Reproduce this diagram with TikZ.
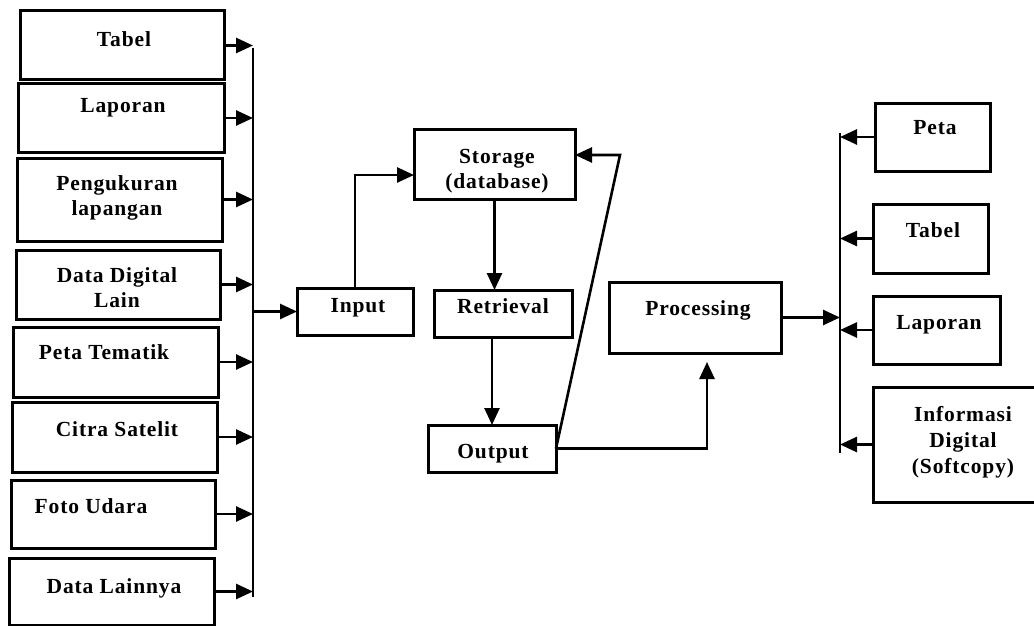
\documentclass[tikz,border=0pt]{standalone}
\usepackage{fontspec}
\newfontfamily\boxfont[LetterSpace=4]{Liberation Serif}
\usetikzlibrary{arrows.meta}
\begin{document}
\begin{tikzpicture}[x=1pt,y=-1pt,
  box/.style={draw, line width=3pt, inner sep=0pt, outer sep=0pt},
  txt/.style={anchor=base, inner sep=0pt, font=\boxfont\bfseries\fontsize{21.5}{26}\selectfont},
  arr/.style={line width=2.6pt, -{Triangle[length=17pt,width=15pt]}},
  ln/.style={line width=2.8pt}]
\useasboundingbox (0,0) rectangle (1034,626);
% box macro: name, x1, y1, x2, y2
\newcommand\bx[5]{\node[box, minimum width={#4-#2}, minimum height={#5-#3}] (#1) at ({(#2+#4)/2},{(#3+#5)/2}) {};}

% data sources
\bx{srcTabel}{20}{11}{224}{80}
\bx{srcLaporan}{18}{84}{224}{152}
\bx{srcUkur}{17}{158}{222}{241}
\bx{srcDigital}{16}{250}{220}{319}
\bx{srcTematik}{13}{327}{218}{397}
\bx{srcCitra}{12}{402}{217}{472}
\bx{srcFoto}{11}{480}{215}{548}
\bx{srcLain}{9}{558}{214}{625}
\node[txt] (tTabel) at (124,47) {Tabel};
\node[txt] (tLaporan) at (123,113) {Laporan};
\node[txt] (tUkur1) at (117,190) {Pengukuran};
\node[txt] (tUkur2) at (117,215) {lapangan};
\node[txt] (tDig1) at (117,282) {Data Digital};
\node[txt] (tDig2) at (117,307) {Lain};
\node[txt] (tTematik) at (104,359) {Peta Tematik};
\node[txt] (tCitra) at (117,436) {Citra Satelit};
\node[txt] (tFoto) at (91,513) {Foto Udara};
\node[txt] (tLain) at (114,593) {Data Lainnya};

% processing chain
\bx{input}{297}{288}{413}{335}
\bx{storage}{414}{129}{575}{199}
\bx{retrieval}{434}{290}{572}{337}
\bx{output}{428}{425}{556}{472}
\bx{processing}{609}{282}{781}{353}
\node[txt] (tInput) at (358,312) {Input};
\node[txt] (tStor1) at (497,163) {Storage};
\node[txt] (tStor2) at (497,188) {(database)};
\node[txt] (tRetr) at (503,313) {Retrieval};
\node[txt] (tOut) at (493,458) {Output};
\node[txt] (tProc) at (698,315) {Processing};

% products
\bx{outPeta}{875}{103}{990}{171}
\bx{outTabel}{873}{204}{988}{273}
\bx{outLaporan}{873}{296}{1000}{364}
\bx{outInfo}{873}{387}{1040}{502}
\node[txt] (tPeta) at (935,135) {Peta};
\node[txt] (tTabel2) at (933,237) {Tabel};
\node[txt] (tLaporan2) at (939,329) {Laporan};
\node[txt] (tInfo1) at (963,421) {Informasi};
\node[txt] (tInfo2) at (963,447) {Digital};
\node[txt] (tInfo3) at (963,473) {(Softcopy)};

% collecting bus on the left
\coordinate (busTop) at (253,48);
\coordinate (busBot) at (253,597);
\draw[ln] (busTop) -- (busBot);
\foreach \s in {srcTabel,srcLaporan,srcUkur,srcDigital,srcTematik,srcCitra,srcFoto,srcLain}
  \draw[arr] (\s.east) -- (\s.east -| busTop);
\draw[arr] (input.west -| busTop) -- (input.west);

% chain connectors
\draw[arr] (input.north) |- ([yshift=-11pt]storage.west);
\draw[arr] (storage.south) -- (storage.south |- retrieval.north);
\draw[arr] (output.north |- retrieval.south) -- (output.north);
\coordinate (fbTop) at (620,155);
\draw[arr] (output.east) -- (fbTop) -- (fbTop -| storage.east);
\coordinate (procIn) at (707,362);
\draw[arr] (output.east) -| (procIn);

% distribution bus on the right
\coordinate (rbusTop) at (840,133);
\coordinate (rbusBot) at (840,453);
\draw[ln] (rbusTop) -- (rbusBot);
\draw[arr] (processing.east) -- (processing.east -| rbusTop);
\foreach \p in {outPeta,outTabel,outLaporan,outInfo}
  \draw[arr] (\p.west) -- (\p.west -| rbusTop);
\end{tikzpicture}
\end{document}
